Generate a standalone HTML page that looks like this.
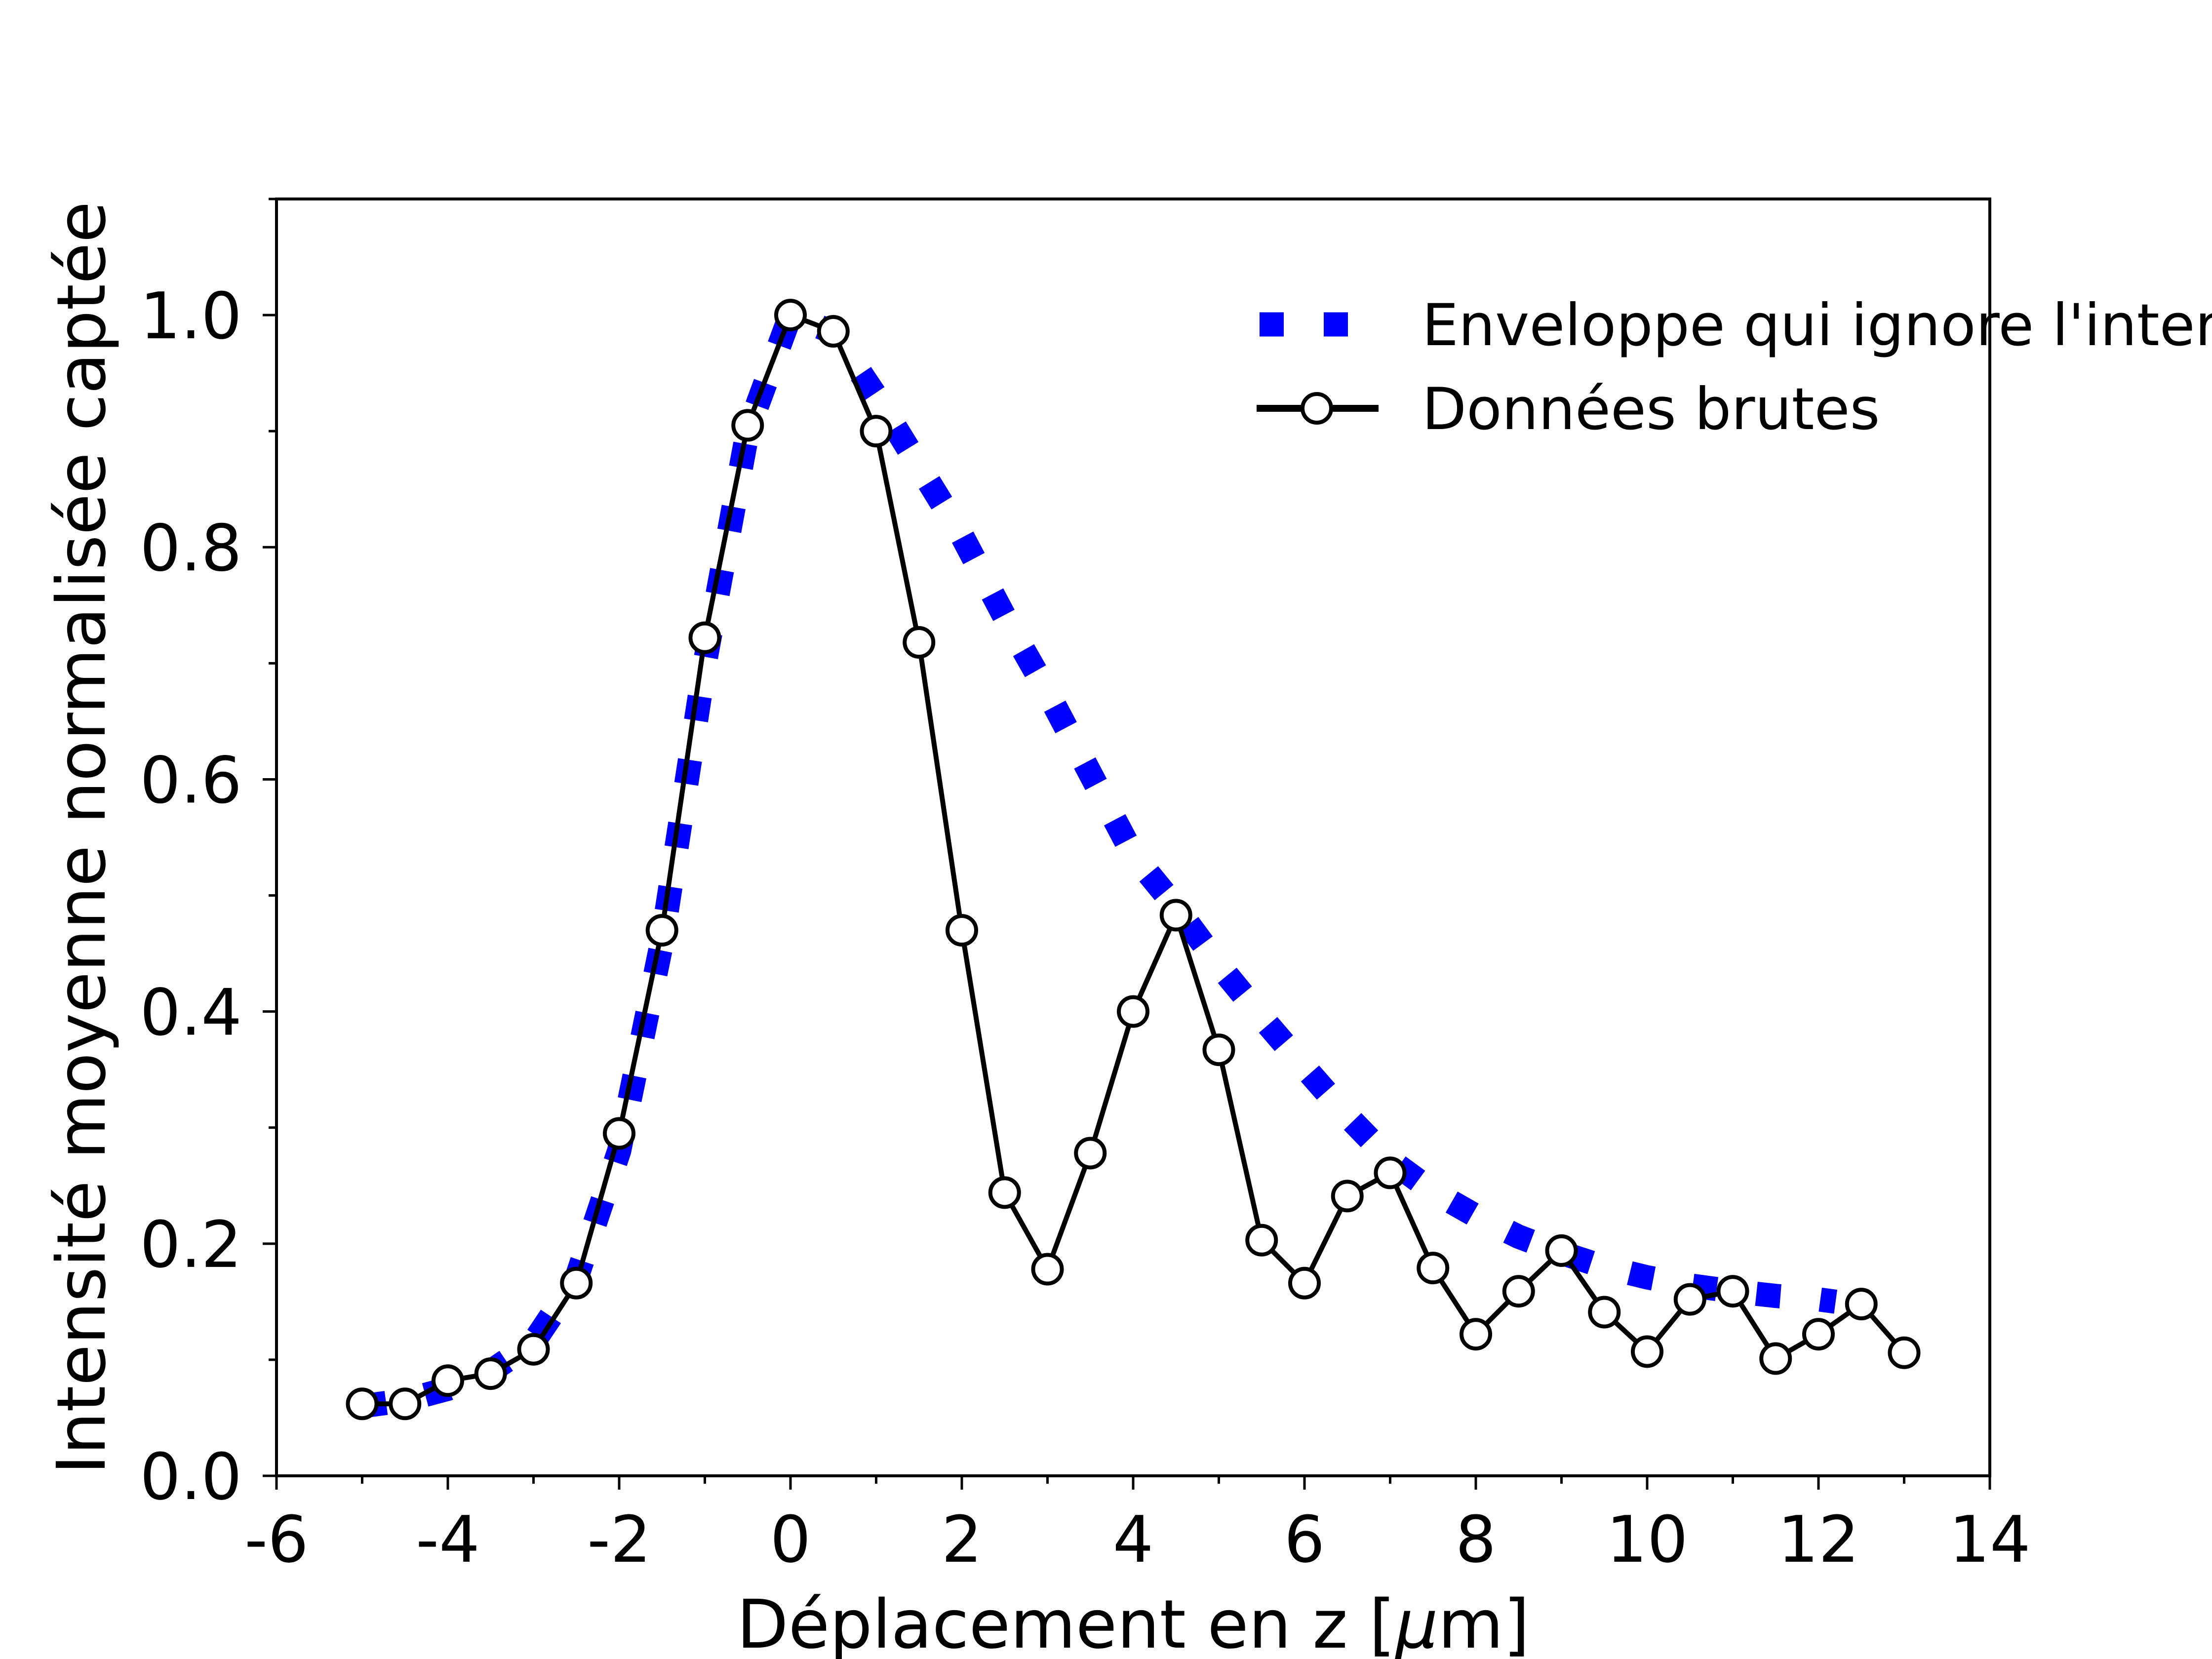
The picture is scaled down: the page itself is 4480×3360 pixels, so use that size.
<!DOCTYPE html>
<html><head><meta charset="utf-8"><style>
html,body{margin:0;padding:0;background:#fff}
svg{display:block}
text{font-family:"DejaVu Sans","Liberation Sans",sans-serif;fill:#000}
</style></head><body>
<svg id="chart" width="4480" height="3360" viewBox="0 0 4480 3360" xmlns="http://www.w3.org/2000/svg">
<rect width="4480" height="3360" fill="#fff"/>
<g id="plot"></g>
</svg>
<script>
const dataX = [-5,-4.5,-4,-3.5,-3,-2.5,-2,-1.5,-1,-0.5,0,0.5,1,1.5,2,2.5,3,3.5,4,4.5,5,5.5,6,6.5,7,7.5,8,8.5,9,9.5,10,10.5,11,11.5,12,12.5,13];
const dataY = [0.062,0.062,0.082,0.088,0.109,0.166,0.295,0.470,0.722,0.905,1.0,0.986,0.900,0.718,0.470,0.244,0.178,0.278,0.400,0.483,0.367,0.203,0.166,0.241,0.261,0.179,0.122,0.159,0.194,0.141,0.107,0.152,0.159,0.101,0.122,0.148,0.106];
const envX = [-5,-4.5,-4,-3.5,-3,-2.5,-2,-1.5,-1,-0.5,0,0.5,1,1.5,2,2.5,3,3.5,4,4.5,5,5.5,6,6.5,7,7.5,8,8.5,9,9.5,10,10.5,11,11.5,12,12.2];
const envY = [0.06,0.065,0.075,0.09,0.115,0.17,0.28,0.46,0.70,0.90,1.0,0.985,0.93,0.87,0.81,0.74,0.675,0.605,0.535,0.49,0.44,0.395,0.352,0.31,0.272,0.245,0.224,0.206,0.192,0.18,0.171,0.164,0.159,0.155,0.152,0.150];
const xTicks = [-6,-4,-2,0,2,4,6,8,10,12,14];
const xTickLabels = ["-6","-4","-2","0","2","4","6","8","10","12","14"];
const yTicks = [0,0.2,0.4,0.6,0.8,1.0];
const yTickLabels = ["0.0","0.2","0.4","0.6","0.8","1.0"];

const L=560,R=4030,T=403,B=2989, X0=-6,X1=14,Y0=0,Y1=1.1;
const sx=v=>L+(v-X0)/(X1-X0)*(R-L);
const sy=v=>B-(v-Y0)/(Y1-Y0)*(B-T);
const NS="http://www.w3.org/2000/svg";
const g=document.getElementById('plot');
function mk(tag,attrs,parent){const e=document.createElementNS(NS,tag);for(const k in attrs)e.setAttribute(k,attrs[k]);(parent||g).appendChild(e);return e;}

const env=mk('polyline',{points:envX.map((x,i)=>sx(x)+','+sy(envY[i])).join(' '),fill:'none',stroke:'#0000ff','stroke-width':49,'stroke-dasharray':'49 81'});


const dl=mk('polyline',{points:dataX.map((x,i)=>sx(x)+','+sy(dataY[i])).join(' '),fill:'none',stroke:'#000','stroke-width':10,'stroke-linejoin':'round'});


dataX.forEach((x,i)=>{
  const c=mk('circle',{cx:sx(x),cy:sy(dataY[i]),r:29,fill:'#fff',stroke:'#000','stroke-width':8});
  
  
});
const fr=mk('rect',{x:L,y:T,width:R-L,height:B-T,fill:'none',stroke:'#000','stroke-width':6});


for(let v=-6;v<=14;v++){
  const major=(v%2===0);
  const t=mk('line',{x1:sx(v),x2:sx(v),y1:B,y2:B+(major?28:16),stroke:'#000','stroke-width':5});
  
  
}
xTicks.forEach((v,i)=>{
  const t=mk('text',{x:sx(v),y:3163,'font-size':130,'text-anchor':'middle'});
  t.textContent=xTickLabels[i];
  
  
});
for(let k=0;k<=11;k++){
  const v=k/10, major=(k%2===0);
  const t=mk('line',{x1:L,x2:L-(major?28:16),y1:sy(v),y2:sy(v),stroke:'#000','stroke-width':5});
  
  
}
yTicks.forEach((v,i)=>{
  const t=mk('text',{x:490,y:sy(v)+47,'font-size':130,'text-anchor':'end'});
  t.textContent=yTickLabels[i];
  
  
});
const xt=mk('text',{x:sx(4),y:3337,'font-size':136,'text-anchor':'middle'});
xt.innerHTML='Déplacement en z [<tspan font-style="italic">μ</tspan>m]';


const yt=mk('text',{x:0,y:0,'font-size':136,'text-anchor':'middle',transform:'translate(212,1697) rotate(-90)'});
yt.textContent='Intensité moyenne normalisée captée';


const le1=mk('line',{x1:2551,x2:2780,y1:657,y2:657,stroke:'#0000ff','stroke-width':49,'stroke-dasharray':'49 81'});


const lt1=mk('text',{x:2880,y:699,'font-size':117});
lt1.textContent="Enveloppe qui ignore l'interférence";


const le2=mk('line',{x1:2545,x2:2792,y1:827,y2:827,stroke:'#000','stroke-width':14});


const lc=mk('circle',{cx:2667,cy:827,r:29,fill:'#fff',stroke:'#000','stroke-width':8});


const lt2=mk('text',{x:2880,y:869,'font-size':117});
lt2.textContent='Données brutes';


</script>
</body></html>
